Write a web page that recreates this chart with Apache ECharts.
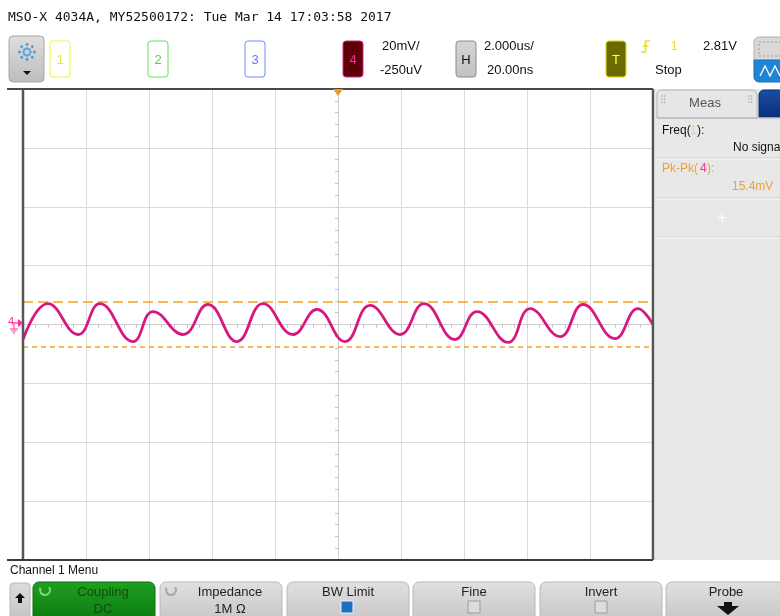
<!DOCTYPE html>
<html>
<head>
<meta charset="utf-8">
<script src="https://cdn.jsdelivr.net/npm/echarts@6/dist/echarts.min.js"></script>
<style>
html, body { margin: 0; padding: 0; background: #fff; }
#scope { width: 780px; height: 616px; }
</style>
</head>
<body>
<div id="scope"></div>
<script>
// channel 4 trace (time in us, level in mV)
const timeUs = [-10.0, -9.21, -8.25, -7.56, -6.51, -5.87, -4.92, -4.13, -3.21, -2.38, -1.43, -0.67,
	0.22, 1.02, 1.97, 2.73, 3.71, 4.41, 5.40, 6.10, 7.05, 7.78, 8.79, 9.52, 10.0];
const ch4mV = [-5.1, 7.1, -3.4, 7.1, -5.8, 4.4, -3.4, 6.8, -5.8, 7.1, -3.4, 5.1,
	-5.8, 6.5, -3.4, 7.1, -5.1, 4.4, -6.1, 5.4, -4.1, 6.8, -4.8, 5.4, 0];
// Pk-Pk measurement cursors (mV)
const cursorsMV = [7.8, -7.6];

const title = "MSO-X 4034A, MY52500172: Tue Mar 14 17:03:58 2017";
const channels = ["1", "2", "3", "4"];
const menuButtons = ["Coupling", "Impedance", "BW Limit", "Fine", "Invert", "Probe"];
const menuValues = ["DC", "1M Ω", "", "", "", ""];

const SANS = '"Liberation Sans", Arial, sans-serif';

function rect(x, y, w, h, fill, stroke, r, extra) {
	return Object.assign({
		type: "rect",
		shape: { x: x, y: y, width: w, height: h, r: r || 0 },
		style: { fill: fill, stroke: stroke || null, lineWidth: 1 },
	}, extra || {});
}

function txt(x, y, s, size, color, align, font) {
	return {
		type: "text",
		z: 50,
		style: {
			x: x,
			y: y,
			text: s,
			font: size + "px " + (font || SANS),
			fill: color,
			align: align || "left",
			verticalAlign: "middle",
		},
	};
}

function line(x1, y1, x2, y2, color, w, dash) {
	return {
		type: "line",
		z: 60,
		shape: { x1: x1, y1: y1, x2: x2, y2: y2 },
		style: { stroke: color, lineWidth: w || 1, lineDash: dash || null },
	};
}

function grad(top, bottom) {
	return {
		type: "linear", x: 0, y: 0, x2: 0, y2: 1,
		colorStops: [{ offset: 0, color: top }, { offset: 1, color: bottom }],
	};
}

const graphics = [];

// header
graphics.push(txt(8, 18, title, 13, "#111", "left", '"DejaVu Sans Mono", monospace'));
graphics.push(rect(9, 36, 35, 46, grad("#dedede", "#bdbdbd"), "#a8a8a8", 4));
[0, 45, 90, 135, 180, 225, 270, 315].forEach(a => {
	const rad = a * Math.PI / 180;
	[3.5, 7.5].forEach(d => {
		graphics.push({
			type: "circle", z: 20,
			shape: { cx: 27 + d * Math.cos(rad), cy: 52 + d * Math.sin(rad), r: d < 5 ? 1.2 : 1.4 },
			style: { fill: "#3c9ee0" },
		});
	});
});
graphics.push({ type: "polygon", z: 20, shape: { points: [[23, 71], [31, 71], [27, 75]] }, style: { fill: "#111" } });

const chanX = [50, 148, 245, 343];
const chanStroke = ["#f2f23a", "#5fe05f", "#6f8cff", "#e0208a"];
const chanFill = ["#fff", "#fff", "#fff", "#5e0008"];
const chanText = ["#e8e830", "#4fd04f", "#5f7cff", "#ff2a9a"];
channels.forEach((c, i) => {
	graphics.push(rect(chanX[i], 41, 20, 36, chanFill[i], chanStroke[i], 3, { z: 20 }));
	graphics.push(txt(chanX[i] + 10, 60, c, 13, chanText[i], "center"));
});
graphics.push(txt(382, 46, "20mV/", 13, "#111"));
graphics.push(txt(380, 70, "-250uV", 13, "#111"));
graphics.push(rect(456, 41, 20, 36, grad("#d6d6d6", "#c2c2c2"), "#8c8c8c", 3, { z: 20 }));
graphics.push(txt(466, 60, "H", 13, "#111", "center"));
graphics.push(txt(484, 46, "2.000us/", 13, "#111"));
graphics.push(txt(487, 70, "20.00ns", 13, "#111"));
graphics.push(rect(606, 41, 20, 36, "#6b6b00", "#dede10", 3, { z: 20 }));
graphics.push(txt(616, 60, "T", 13, "#ffff40", "center"));
// rising edge trigger symbol
graphics.push({
	type: "polyline", z: 20,
	shape: { points: [[641, 52], [645.5, 52], [645.5, 41], [650, 41]] },
	style: { stroke: "#f0e020", lineWidth: 1.6, fill: null },
});
graphics.push({ type: "polygon", z: 20, shape: { points: [[642.5, 47], [648.5, 47], [645.5, 43.5]] }, style: { fill: "#f0e020" } });
graphics.push(txt(674, 46, "1", 13, "#f0e020", "center"));
graphics.push(txt(703, 46, "2.81V", 13, "#111"));
graphics.push(txt(655, 70, "Stop", 13, "#111"));
graphics.push(rect(754, 37, 30, 24, "#d8d8d8", "#b0b0b0", [5, 0, 0, 0], { z: 20 }));
graphics.push(rect(759, 42, 26, 14, null, "#9a9a9a", 0, { z: 21, style: { fill: null, stroke: "#9a9a9a", lineWidth: 1, lineDash: [2, 2] } }));
graphics.push(rect(754, 60, 30, 22, "#1d84d6", "#1a70b8", [0, 0, 0, 5], { z: 20 }));
graphics.push({
	type: "polyline", z: 21,
	shape: { points: [[760, 76], [765, 66], [770, 76], [775, 66], [780, 76]] },
	style: { stroke: "#fff", lineWidth: 1.3, fill: null },
});

// plot frame
graphics.push(line(7, 89, 653, 89, "#4a4a4a", 2));
graphics.push(line(23, 89, 23, 560, "#555", 2.5));
graphics.push(line(7, 560, 653, 560, "#3a3a3a", 2));
graphics.push(line(653, 89, 653, 560, "#555", 2.5));
graphics.push({ type: "polygon", z: 70, shape: { points: [[333, 89], [343, 89], [338, 96]] }, style: { fill: "#f39a1e" } });

// ground marker of channel 4
graphics.push(txt(11, 322, "4", 11, "#ff2a9a", "center"));
graphics.push(line(14, 323, 21, 323, "#ff2a9a", 1.2));
graphics.push({ type: "polygon", z: 60, shape: { points: [[18, 319], [23, 323], [18, 327]] }, style: { fill: "#ff2a9a" } });
graphics.push(line(14, 323, 14, 329, "#ff2a9a", 1));
graphics.push(line(10, 329, 18, 329, "#ff2a9a", 1));
graphics.push(line(11.5, 331, 16.5, 331, "#ff2a9a", 1));
graphics.push(line(13, 333, 15, 333, "#ff2a9a", 1));

// measurement panel
graphics.push(rect(655, 89, 125, 471, "#e8e8e8", null, 0, { z: 5 }));
graphics.push(rect(657, 90, 100, 28, "#e6e6e6", "#b4b4b4", [5, 5, 0, 0], { z: 6 }));
graphics.push(rect(759, 90, 25, 27, grad("#1b4ea6", "#0a2f78"), "#0a2f78", [5, 0, 0, 0], { z: 6 }));
graphics.push(line(657, 118, 780, 118, "#b4b4b4", 1));
graphics.push(txt(705, 103, "Meas", 13, "#555", "center"));
[[662, 96], [664.5, 96], [662, 99], [664.5, 99], [662, 102], [664.5, 102],
 [749, 96], [751.5, 96], [749, 99], [751.5, 99], [749, 102], [751.5, 102]].forEach(p => {
	graphics.push({ type: "circle", z: 20, shape: { cx: p[0], cy: p[1], r: 0.7 }, style: { fill: "#999" } });
});
graphics.push(txt(662, 131, "Freq(", 12, "#111"));
graphics.push(txt(690, 131, "1", 12, "#e8e830"));
graphics.push(txt(697, 131, "):", 12, "#111"));
graphics.push(txt(733, 148, "No signal", 12, "#111"));
graphics.push(line(657, 158, 780, 158, "#cfcfcf", 1));
graphics.push(line(657, 159, 780, 159, "#f8f8f8", 1));
graphics.push(txt(662, 169, "Pk-Pk(", 12, "#f0a030"));
graphics.push(txt(700, 169, "4", 12, "#ff2a9a"));
graphics.push(txt(707, 169, "):", 12, "#f0a030"));
graphics.push(txt(732, 187, "15.4mV", 12, "#f0a030"));
graphics.push(line(657, 198, 780, 198, "#cfcfcf", 1));
graphics.push(line(657, 199, 780, 199, "#f8f8f8", 1));
graphics.push(txt(722, 218, "+", 17, "#fff", "center"));
graphics.push(line(657, 237, 780, 237, "#cfcfcf", 1));
graphics.push(line(657, 238, 780, 238, "#f8f8f8", 1));

// softkey menu
graphics.push(txt(10, 571, "Channel 1 Menu", 12, "#111"));
graphics.push(rect(10, 583, 20, 36, grad("#dcdcdc", "#c4c4c4"), "#b8b8b8", [4, 4, 0, 0], { z: 20 }));
graphics.push({
	type: "polygon", z: 21,
	shape: { points: [[20, 593], [25, 598], [22, 598], [22, 603], [18, 603], [18, 598], [15, 598]] },
	style: { fill: "#111" },
});
const btnX = [33, 160, 287, 413, 540, 666];
menuButtons.forEach((b, i) => {
	const w = i === 5 ? 120 : 122;
	const on = i === 0;
	graphics.push(rect(btnX[i], 582, w, 40, on ? grad("#1f9f1f", "#0b7a0f") : grad("#e0e0e0", "#c6c6c6"),
		on ? "#0d6d10" : "#b8b8b8", [6, 6, 0, 0], { z: 20 }));
	const cx = btnX[i] + w / 2 + (i < 2 ? 9 : 0);
	graphics.push(txt(cx, 592, b, 13, on ? "#174717" : "#222", "center"));
	if (menuValues[i]) graphics.push(txt(cx, 609, menuValues[i], 13, on ? "#174717" : "#222", "center"));
});
[[45, "#7fd07f"], [171, "#a8a8a8"]].forEach(a => {
	graphics.push({
		type: "arc", z: 21,
		shape: { cx: a[0], cy: 590, r: 5, startAngle: -0.6, endAngle: 3.6 },
		style: { stroke: a[1], lineWidth: 2.2, fill: null },
	});
});
graphics.push(rect(341, 601, 12, 12, "#1f6fbf", "#f2f2f2", 0, { z: 21 }));
graphics.push(rect(468, 601, 12, 12, "#dcdcdc", "#9a9a9a", 0, { z: 21 }));
graphics.push(rect(595, 601, 12, 12, "#dcdcdc", "#9a9a9a", 0, { z: 21 }));
graphics.push({
	type: "polygon", z: 21,
	shape: { points: [[724, 602], [732, 602], [732, 606], [739, 606], [728, 615], [717, 606], [724, 606]] },
	style: { fill: "#111" },
});

const gridSplit = { show: true, lineStyle: { color: "#dadada", width: 1 } };
const centreLine = { show: true, onZero: true, lineStyle: { color: "#cfcfcf", width: 1 } };

function centreTicks(inside) {
	return {
		axisLine: centreLine,
		axisTick: { show: true, inside: inside, length: 3, lineStyle: { color: "#c4c4c4" } },
		minorTick: { show: true, splitNumber: 5, length: 3, lineStyle: { color: "#c4c4c4" } },
		axisLabel: { show: false },
	};
}

const option = {
	backgroundColor: "#ffffff",
	animation: false,
	grid: { left: 23, top: 89, width: 630, height: 471, show: false },
	xAxis: [
		Object.assign({ type: "value", min: -10, max: 10, interval: 2, position: "bottom", splitLine: gridSplit }, centreTicks(false)),
		Object.assign({ type: "value", min: -10, max: 10, interval: 2, position: "top", splitLine: { show: false } }, centreTicks(true)),
	],
	yAxis: [
		Object.assign({ type: "value", min: -80, max: 80, interval: 20, position: "left", splitLine: gridSplit }, centreTicks(false)),
		Object.assign({ type: "value", min: -80, max: 80, interval: 20, position: "right", splitLine: { show: false } }, centreTicks(true)),
	],
	series: [
		{
			name: "Channel 4",
			type: "line",
			xAxisIndex: 0,
			yAxisIndex: 0,
			data: timeUs.map((t, i) => [t, ch4mV[i]]),
			showSymbol: false,
			smooth: 0.45,
			z: 10,
			lineStyle: { color: "#d6187f", width: 2.8 },
			markLine: {
				silent: true,
				symbol: "none",
				label: { show: false },
				data: [
					{ yAxis: cursorsMV[0], lineStyle: { color: "#f7a21c", width: 1.6, type: [10, 5] } },
					{ yAxis: cursorsMV[1], lineStyle: { color: "#f7a21c", width: 1.6, type: [5, 4] } },
				],
			},
		},
	],
	graphic: graphics,
};

const myChart = echarts.init(document.getElementById("scope"));
myChart.setOption(option);
</script>
</body>
</html>
